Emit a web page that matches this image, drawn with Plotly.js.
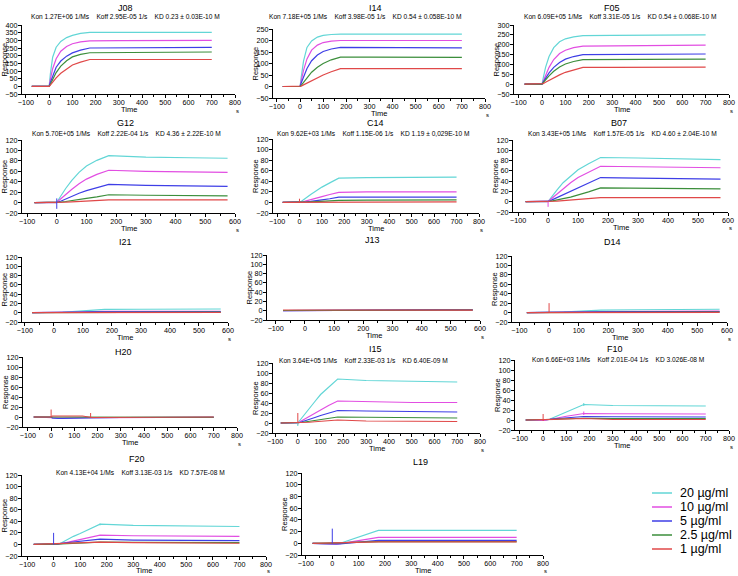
<!DOCTYPE html>
<html><head><meta charset="utf-8">
<script src="https://cdn.plot.ly/plotly-3.0.1.min.js"></script>
<style>html,body{margin:0;padding:0;background:#fff}#chart{width:738px;height:576px}</style>
</head><body><div id="chart"></div>
<script>
// ---------------- DATA ----------------
const NAMES = ['J08','I14','F05','G12','C14','B07','I21','J13','D14','H20','I15','F10','F20','L19'];
const STATS = [
 'Kon 1.27E+06 1/Ms|Koff 2.95E-05 1/s|KD 0.23 ± 0.03E-10 M',
 'Kon 7.18E+05 1/Ms|Koff 3.98E-05 1/s|KD 0.54 ± 0.058E-10 M',
 'Kon 6.09E+05 1/Ms|Koff 3.31E-05 1/s|KD 0.54 ± 0.068E-10 M',
 'Kon 5.70E+05 1/Ms|Koff 2.22E-04 1/s|KD 4.36 ± 2.22E-10 M',
 'Kon 9.62E+03 1/Ms|Koff 1.15E-06 1/s|KD 1.19 ± 0,029E-10 M',
 'Kon 3.43E+05 1/Ms|Koff 1.57E-05 1/s|KD 4.60 ± 2.04E-10 M',
 '', '', '', '',
 'Kon 3.64E+05 1/Ms|Koff 2.33E-03 1/s|KD 6.40E-09 M',
 'Kon 6.66E+03 1/Ms|Koff 2.01E-04 1/s|KD 3.026E-08 M',
 'Kon 4.13E+04 1/Ms|Koff 3.13E-03 1/s|KD 7.57E-08 M',
 ''
];
const CONC = ['20 µg/ml','10 µg/ml','5 µg/ml','2.5 µg/ml','1 µg/ml'];
const T_LONG  = [-75, 0, 5, 15, 30, 50, 75, 100, 135, 175, 300, 500, 700];
const T_SHORT = [-75, 0, 5, 15, 30, 50, 75, 100, 135, 175, 300, 450, 575];
const Y_MIN = [-50,-50,-50,-20,-20,-20,-20,-20,-20,-20,-20,-20,-20,-20];
const Y_MAX = [400,250,300,120,120,120,120,120,120,120,120,120,120,120];
const Y_STEP = [50,50,50,20,20,20,20,20,20,20,20,20,20,20];
const X_MAX = [800,800,800,600,800,600,600,600,600,800,800,800,800,800];

const J08 = [
 [0,0,80,190,255,293,318,332,345,352,352,352,352],
 [0,0,45,115,180,229,260,278,290,296,298,299,300],
 [0,0,25,70,125,165,197,218,236,250,252,253,254],
 [0,0,14,45,90,132,167,192,208,219,220,222,224],
 [0,0,8,28,55,85,114,139,158,175,175,175,175]];
const I14 = [
 [0,0,40,110,170,198,215,222,226,228,228,228,228],
 [0,0,25,70,120,158,180,191,197,200,200,200,200],
 [0,0,15,42,78,112,137,152,163,170,169,168,168],
 [0,0,5,18,38,62,84,100,116,128,128,127,127],
 [0,0,2,7,15,26,38,50,64,78,78,78,78]];
const F05 = [
 [0,0,30,85,140,185,215,230,240,246,247,249,250],
 [0,0,15,45,85,125,155,172,185,193,194,196,198],
 [0,0,10,30,57,85,110,127,140,150,151,152,153],
 [0,0,8,22,42,65,87,102,115,124,125,126,127],
 [0,0,3,10,20,33,47,60,73,85,85,86,86]];
const G12 = [
 [0,0,5,14,27,42,58,70,81,90,87,86,85],
 [0,0,3,8,16,25,36,45,54,62,60,59,58],
 [0,0,1,3,7,12,18,23,29,35,33,32,31],
 [0,0,0.5,1,2,4,6,8,11,15,14,14,13],
 [0,0,0,0.5,1,1.5,2,3,4,5,5,5,5]];
const C14 = [
 [0,0,1,4,9,15,22,29,37,46,47,48,48],
 [0,0,0.5,1,3,5,8,11,15,19,20,20,20],
 [0,0,0,0.5,1,2,4,5,7,10,10,10,10],
 [0,0,0,0,0.5,1,1.5,2,3,4,4.5,5,5],
 [0,0,0,0,0.2,0.3,0.5,0.6,0.8,1,1,1,1]];
const B07 = [
 [0,0,4,12,23,37,50,62,74,86,85,84,82],
 [0,0,3,8,15,25,37,47,58,69,68,67,66],
 [0,0,1,4,8,14,21,28,37,47,46,45,44],
 [0,0,0.5,1.5,3,6,9,13,19,27,26,25,25],
 [0,0,0,0.5,1,2,3,4,6,8,8,8,8]];
const I21 = [
 [0,0,0.2,0.5,1,2,3,4,5.5,7,7.5,8,8],
 [0,0,0.1,0.3,0.6,1,1.5,2,2.5,3,3,3,3],
 [0,0,0.1,0.2,0.4,0.7,1,1.3,1.7,2,2,2,2],
 [0,0,0,0.1,0.2,0.4,0.6,0.8,1,1.2,1.2,1.2,1.2],
 [0,0,0,0,0.1,0.2,0.3,0.4,0.5,0.5,0.5,0.5,0.5]];
const J13 = [
 [0,0,0,0.1,0.2,0.4,0.6,0.8,1,1.2,1.5,1.8,2],
 [0,0,0,0.1,0.2,0.3,0.5,0.7,0.9,1.1,1.4,1.7,1.9],
 [0,0,0,0.1,0.2,0.3,0.5,0.7,0.9,1.1,1.4,1.7,1.9],
 [0.5,0.5,0.5,0.5,0.6,0.6,0.7,0.8,0.9,1,1.2,1.4,1.5],
 [1.5,1.5,1.2,1,0.8,0.8,0.8,0.8,0.9,1,1,1.1,1.2]];
const D14 = [
 [0,0,0.2,0.5,1,1.5,2.2,3,4,5,6,6.5,7],
 [0,0,0.1,0.3,0.5,0.8,1,1.3,1.6,2,2.3,2.6,3],
 [0,0,0.1,0.2,0.4,0.6,0.8,1,1.3,1.6,1.8,2,2.2],
 [0,0,0,0.1,0.2,0.3,0.4,0.5,0.7,0.9,1,1.1,1.2],
 [0,0,0,0,0.1,0.1,0.2,0.2,0.3,0.4,0.5,0.5,0.5]];
const H20 = [
 [0,0,-2,-2.5,-2.5,-2.5,-2.5,-2.5,-2.5,-1.5,-1,-0.5,-0.5],
 [0,0,-1.5,-2,-2,-2,-2,-2,-2,-1.5,-1,-0.5,-0.5],
 [0,0,-2,-3,-3,-3,-3,-3,-3,-1.5,-1,-0.5,-0.5],
 [0,0,-1,-1,-1,-1,-1,-1,-1,-1,-0.5,-0.5,-0.5],
 [0,0,2,2,2,2,2,2,2,-1,-0.5,0,0]];
const I15 = [
 [0,0,3,9,18,29,43,57,72,88,85,83,82],
 [0,0,1,4,8,13,20,27,35,44,43,41,41],
 [0,0,0.5,2,4,7,11,15,20,25,24,23,22],
 [0,0,0.3,1,2,3.5,5,7,9,12,11.5,10.5,10],
 [0,0,0.2,0.5,1,1.5,2.5,3.5,4.5,6,4,3,3]];
const F10 = [
 [0,-1,-1,-0.5,2,6,11,16,22,31,29,28.5,28],
 [0,-2,-1,0,1.5,3.5,5.5,7.5,10,13,12.5,12,12],
 [0,0,0.3,0.8,1.5,2.5,3.5,4.5,6,7,6.5,6,6],
 [0,0,0.3,0.6,1,1.5,2,2.5,3,3.5,3,3,3],
 [0,0,0.2,0.5,0.8,1.2,1.6,2,2.5,3,1,1,1]];
const F20 = [
 [0,-1,-1,0,3,8,14,19,26,35,33,32,31],
 [0,-1,-1,0,1.5,3.5,6,8,11,16,15,14.5,14],
 [0,0,0.3,1,2,3,4.5,5.5,7,9,7.5,7,6.5],
 [0,0,0.3,0.6,1,1.5,2,2.5,3,4,3.5,3,3],
 [0,1,1.5,2,2.3,2.6,3,3.2,3.6,4,3,2.5,2]];
const L19 = [
 [0,-1,-2,-2,0,3,7,11,16,22,22,22,22],
 [0,-1,-1.5,-1.5,-0.5,1,3,5,7,10,10,10,10],
 [0,-1,-1.5,-1.5,-1,0,1,2,3.5,5,5,5,5],
 [0,0,0,0.2,0.5,1,1.5,2,2.5,3,3,3,3],
 [0,1,1,1.2,1.4,1.6,1.8,2,2.3,2.5,2.5,2.5,2.5]];
const SERIES = [J08,I14,F05,G12,C14,B07,I21,J13,D14,H20,I15,F10,F20,L19];
const TIMES = [T_LONG,T_LONG,T_LONG,T_SHORT,T_LONG,T_SHORT,T_SHORT,T_SHORT,T_SHORT,T_LONG,T_LONG,T_LONG,T_LONG,T_LONG];
// injection artefacts: [panel, time, from, to, series]
const SPIKES = [
 [3,0,8,-12,2],[4,0,0,7,4],[5,0,0,-10,1],[8,0,0,20,4],
 [9,0,0,15,4],[9,170,0,8,4],[10,0,-3,20,4],[10,0,0,-6,0],
 [11,0,-2,12,4],[11,175,28,34,0],[11,175,10,17,1],
 [12,0,0,20,2],[12,175,33,36,0],[13,0,0,25,2]];

// ---------------- STYLE / LAYOUT ----------------
const W = 738, H = 576;
const COLORS = ['#62d6d6','#e24ee2','#3e3ee6','#3b8e3b','#e04848'];
const FN = 'Liberation Sans, Arial, sans-serif';
// pixel boxes: [left, right, top, bottom, xmin]
const BOX = [
 [22,235,25,94,-117],[273,485,29,98,-117],[514,729,25,94,-120],
 [22,235,140,213,-117],[273,479,139,213,-118],[513,728,140,212,-117],
 [22,228,257,322,-110],[267,480,255,320,-130],[512,727,256,322,-125],
 [23,237,357,427,-121],[273,480,363,433,-109],[515,729,360,430,-121],
 [22,266,475,556,-119],[302,543,473,555,-115]];
const TITLE_POS = [[125,8],[375,8],[612,8],[125,123],[375,123],[619,123],[125,242],[372,240],[612,242],[123,352],[375,349],[615,349],[137,459],[420,462]];
const STATS_POS = [[125,17],[365,17],[620,17],[126,134],[373,133],[622,134],null,null,null,null,[363,360],[618,359],[140,472],null];

const px = x => x / W, py = y => 1 - y / H;
const traces = [], annotations = [], shapes = [];
const layout = {width:W, height:H, margin:{l:0,r:0,t:0,b:0}, paper_bgcolor:'#fff', plot_bgcolor:'rgba(0,0,0,0)', showlegend:false, font:{family:FN, size:7, color:'#000'}};

NAMES.forEach((name, i) => {
  const n = i + 1, sfx = n === 1 ? '' : String(n);
  const [l, r, t, b, xmin] = BOX[i];
  layout['xaxis' + sfx] = {domain:[px(l), px(r)], range:[xmin, X_MAX[i]], anchor:'y' + sfx,
    tick0:0, dtick:100, showline:true, linecolor:'#000', linewidth:1, ticks:'outside', ticklen:3, tickcolor:'#000',
    tickfont:{family:FN, size:7.2}, ticklabelstandoff:-2, showgrid:false, zeroline:false, fixedrange:true,
    minor:{ticks:'outside', ticklen:2, dtick:50, tick0:0, tickcolor:'#000', showgrid:false}};
  layout['yaxis' + sfx] = {domain:[py(b), py(t)], range:[Y_MIN[i], Y_MAX[i]], anchor:'x' + sfx,
    tick0:0, dtick:Y_STEP[i], showline:true, linecolor:'#000', linewidth:1, ticks:'outside', ticklen:3, tickcolor:'#000',
    tickfont:{family:FN, size:7.2}, ticklabelstandoff:-1, showgrid:false, zeroline:false, fixedrange:true};
  SERIES[i].forEach((ys, k) => {
    traces.push({type:'scatter', mode:'lines', x:TIMES[i], y:ys, xaxis:'x' + sfx, yaxis:'y' + sfx,
      name:CONC[k], line:{color:COLORS[k], width:1.2}, hoverinfo:'skip'});
  });
  annotations.push({xref:'paper', yref:'paper', x:px(TITLE_POS[i][0]), y:py(TITLE_POS[i][1]), text:name, showarrow:false, xanchor:'center', yanchor:'middle', font:{family:FN, size:9}});
  if (STATS[i]) {
    const s = STATS[i].split('|').join('\u00a0\u00a0\u00a0\u00a0');
    annotations.push({xref:'paper', yref:'paper', x:px(STATS_POS[i][0]), y:py(STATS_POS[i][1]), text:s, showarrow:false, xanchor:'center', yanchor:'middle', font:{family:FN, size:6.6}});
  }
  annotations.push({xref:'paper', yref:'paper', x:px(l - 18), y:py((t + b) / 2), text:'Response', textangle:-90, showarrow:false, xanchor:'center', yanchor:'middle', font:{family:FN, size:7.5}});
  annotations.push({xref:'paper', yref:'paper', x:px((l + r) / 2), y:py(Math.min(b + 15.5, 570)), text:'Time', showarrow:false, xanchor:'center', yanchor:'middle', font:{family:FN, size:7.5}});
  annotations.push({xref:'paper', yref:'paper', x:px(r + 2), y:py(Math.min(b + 16.5, 571)), text:'s', showarrow:false, xanchor:'center', yanchor:'middle', font:{family:FN, size:6}});
});

SPIKES.forEach(([p, tt, y0, y1, k]) => {
  const sfx = p === 0 ? '' : String(p + 1);
  traces.push({type:'scatter', mode:'lines', x:[tt, tt], y:[y0, y1], xaxis:'x' + sfx, yaxis:'y' + sfx,
    line:{color:COLORS[k], width:1}, hoverinfo:'skip', showlegend:false});
});

// legend (bottom right)
CONC.forEach((c, k) => {
  const yy = 493 + k * 14;
  shapes.push({type:'line', xref:'paper', yref:'paper', x0:px(652), x1:px(672), y0:py(yy), y1:py(yy), line:{color:COLORS[k], width:1.5}});
  annotations.push({xref:'paper', yref:'paper', x:px(678), y:py(yy), text:c, showarrow:false, xanchor:'left', yanchor:'middle', font:{family:FN, size:12.5}});
});

layout.annotations = annotations;
layout.shapes = shapes;
Plotly.newPlot('chart', traces, layout, {displayModeBar:false, staticPlot:true});
</script>
</body></html>
